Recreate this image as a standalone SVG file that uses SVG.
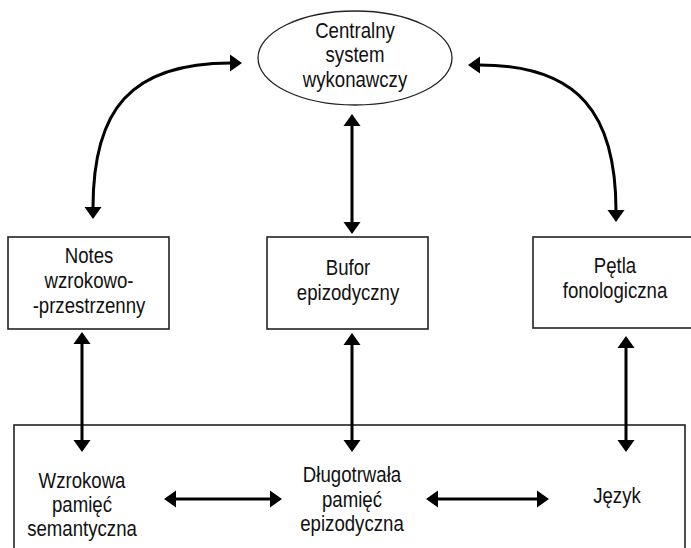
<svg xmlns="http://www.w3.org/2000/svg" width="691" height="548" viewBox="0 0 691 548">
<style>
.box{fill:#fff;stroke:#222;stroke-width:1.6}
.lbl{font-family:"Liberation Sans",Arial,sans-serif;font-size:23px;fill:#111;text-anchor:middle}
.con{fill:none;stroke:#000;stroke-width:3}
</style>
<defs>
<marker id="ah" markerUnits="userSpaceOnUse" markerWidth="14" markerHeight="20" viewBox="0 -10 14 20" refX="1" refY="0" orient="auto-start-reverse">
<path d="M0,-8.5 L12,0 L0,8.5 z" fill="#000"/>
</marker>
</defs>
<rect width="691" height="548" fill="#fff"/>
<g id="pamiec-dlugotrwala">
<rect class="box" x="14" y="425" width="671" height="140"/>
</g>
<g id="centralny">
<ellipse cx="355" cy="58" rx="97" ry="47" fill="#fff" stroke="#222" stroke-width="1.3"/>
<text class="lbl" transform="translate(355 0) scale(0.81 1)"><tspan x="0" y="38">Centralny</tspan><tspan x="0" y="62">system</tspan><tspan x="0" y="87">wykonawczy</tspan></text>
</g>
<g id="notes">
<rect class="box" x="8" y="237" width="161" height="92"/>
<text class="lbl" transform="translate(89 0) scale(0.81 1)"><tspan x="0" y="263">Notes</tspan><tspan x="0" y="288">wzrokowo-</tspan><tspan x="0" y="313">-przestrzenny</tspan></text>
</g>
<g id="bufor">
<rect class="box" x="267" y="237" width="161" height="92"/>
<text class="lbl" transform="translate(348 0) scale(0.81 1)"><tspan x="0" y="275">Bufor</tspan><tspan x="0" y="300">epizodyczny</tspan></text>
</g>
<g id="petla">
<rect class="box" x="533" y="237" width="162" height="91"/>
<text class="lbl" transform="translate(615 0) scale(0.81 1)"><tspan x="0" y="273">Pętla</tspan><tspan x="0" y="298">fonologiczna</tspan></text>
</g>
<g id="wzrokowa">
<text class="lbl" transform="translate(82 0) scale(0.81 1)"><tspan x="0" y="488">Wzrokowa</tspan><tspan x="0" y="512">pamięć</tspan><tspan x="0" y="536">semantyczna</tspan></text>
</g>
<g id="dlugotrwala">
<text class="lbl" transform="translate(352 0) scale(0.81 1)"><tspan x="0" y="482">Długotrwała</tspan><tspan x="0" y="507">pamięć</tspan><tspan x="0" y="531">epizodyczna</tspan></text>
</g>
<g id="jezyk">
<text class="lbl" transform="translate(617 0) scale(0.81 1)"><tspan x="0" y="503">Język</tspan></text>
</g>
<g id="connectors">
<path class="con" d="M231,63 C130,63 93,110 93,208" marker-start="url(#ah)" marker-end="url(#ah)"/>
<path class="con" d="M479,65 C580,65 616,115 616,211" marker-start="url(#ah)" marker-end="url(#ah)"/>
<path class="con" d="M352,125 L352,223" marker-start="url(#ah)" marker-end="url(#ah)"/>
<path class="con" d="M82,343 L82,441" marker-start="url(#ah)" marker-end="url(#ah)"/>
<path class="con" d="M352,344 L352,441" marker-start="url(#ah)" marker-end="url(#ah)"/>
<path class="con" d="M626,347 L626,441" marker-start="url(#ah)" marker-end="url(#ah)"/>
<path class="con" d="M175,499 L271,499" marker-start="url(#ah)" marker-end="url(#ah)"/>
<path class="con" d="M437,499 L538,499" marker-start="url(#ah)" marker-end="url(#ah)"/>
</g>
</svg>
